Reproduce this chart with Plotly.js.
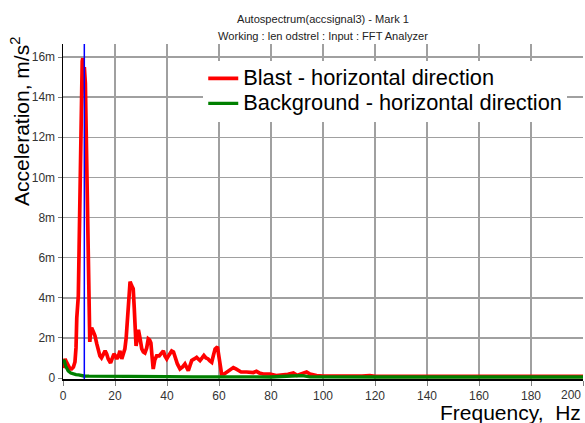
<!DOCTYPE html>
<html>
<head>
<meta charset="utf-8">
<script src="https://cdn.plot.ly/plotly-3.0.1.min.js"></script>
<style>html,body{margin:0;padding:0;background:#fff;}#chart{width:585px;height:423px;}</style>
</head>
<body>
<div id="chart"></div>
<script>
// Frequency (Hz) and acceleration (milli m/s^2)
const blastFreq = [0,0.3,0.8,1.3,2,2.7,3.3,4,4.6,5.0,5.3,5.6,5.9,6.2,6.5,6.8,7.0,7.2,7.4,7.6,7.9,8.2,8.6,8.8,9.0,9.3,9.4,9.7,9.9,10.1,10.3,10.6,11.0,11.7,12.3,13.0,13.6,14.2,14.8,15.5,16.2,16.8,17.4,18.3,19.0,19.6,20.2,20.7,21.3,21.9,22.6,23.2,23.8,24.3,24.7,25.3,25.8,26.4,27.0,27.4,27.7,28.1,28.6,29.0,29.6,30.3,30.9,31.5,32.2,32.8,33.3,33.8,34.3,34.7,35.3,36.0,37.0,38.0,38.6,39.2,39.9,40.8,41.8,42.5,43.0,44.0,45.0,46.0,46.9,47.5,48.2,48.8,49.5,50.5,51.4,52.0,52.7,53.5,54.2,55.0,55.8,56.5,57.2,57.8,58.5,59.4,59.9,60.3,60.7,61.0,62.0,63.0,64.0,65.5,66.5,67.4,68.5,70.6,72.0,73.2,74.4,75.5,77.0,79.6,82.0,84.7,86.5,88.6,90.0,91.5,93.7,95.0,97.5,100,105,110,115,118,120,130,140,150,160,170,180,190,200];
const blastAccel = [0.5,0.8,0.95,0.8,0.6,0.45,0.45,0.55,0.8,1.5,3.0,3.5,4.1,6.5,10.1,12.5,12.7,14.3,15.8,15.95,15.2,15.5,14.7,13.0,11.0,9.0,7.9,5.4,4.0,2.9,1.8,2.2,2.5,2.3,2.1,1.7,1.4,1.1,1.0,1.15,1.35,1.2,0.95,0.75,1.0,1.2,1.1,0.95,1.1,1.35,0.95,1.2,1.45,2.0,2.8,4.3,4.8,4.6,4.45,3.5,2.8,1.6,2.0,2.4,2.0,1.45,1.3,1.25,1.5,1.95,1.9,1.75,1.0,0.45,0.9,1.1,1.1,1.25,1.35,1.1,0.95,1.15,1.35,1.3,1.1,0.7,0.45,0.55,0.7,0.5,0.36,0.6,0.87,0.95,1.03,0.95,0.87,1.0,1.12,1.0,0.95,0.85,0.78,1.1,1.45,1.55,1.2,0.8,0.4,0.2,0.2,0.3,0.4,0.52,0.45,0.37,0.3,0.3,0.28,0.27,0.33,0.25,0.2,0.2,0.12,0.15,0.18,0.25,0.13,0.2,0.3,0.2,0.12,0.1,0.12,0.1,0.09,0.12,0.08,0.08,0.08,0.08,0.08,0.08,0.08,0.08,0.08];
const bgFreq = [0,0.5,1.0,1.5,2.0,3.0,4.0,5.0,6.0,7.0,8.0,10,15,20,30,40,50,60,70,80,88,92,95,100,120,140,160,180,200];
const bgAccel = [0.9,0.85,0.6,0.45,0.35,0.25,0.2,0.17,0.15,0.12,0.1,0.09,0.08,0.07,0.08,0.07,0.06,0.06,0.06,0.05,0.1,0.12,0.06,0.05,0.05,0.05,0.05,0.05,0.05];
const cursorFreq = [8.2];
const yTickVals = [0,2,4,6,8,10,12,14,16];
const yTickText = ["0","2m","4m","6m","8m","10m","12m","14m","16m"];
const xTickVals = [0,20,40,60,80,100,120,140,160,180,200];
const xTickLabels = ["0","20","40","60","80","100","120","140","160","180","200"];
const seriesNames = ["Blast - horizontal direction","Background - horizontal direction"];
const titleLines = ["Autospectrum(accsignal3) - Mark 1","Working : len odstrel : Input : FFT Analyzer"];

const lastIdx = xTickLabels.length - 1;
// the edge label is drawn right-aligned at its tick so it stays inside the picture
const xTickText = xTickLabels.map((s, i) => i === lastIdx ? '' : s);
const legendSpan = s => '<span style="font-size:21.8px">' + s + '</span>';
const traces = [
  {x: blastFreq, y: blastAccel, type:'scatter', mode:'lines', name: legendSpan(seriesNames[0]),
   line:{color:'#ff0000', width:3.7}},
  {x: bgFreq, y: bgAccel, type:'scatter', mode:'lines', name: legendSpan(seriesNames[1]),
   line:{color:'#008000', width:3.3}}
];

const baseFont = 'Liberation Sans, Arial, sans-serif';
const tickFont = {family:baseFont, size:12, color:'#333333'};
const layout = {
  width:585, height:423,
  margin:{l:63, r:2, t:44, b:44},
  paper_bgcolor:'#ffffff', plot_bgcolor:'#ffffff',
  showlegend:true,
  xaxis:{range:[0,200], tickvals:xTickVals, ticktext:xTickText,
         showgrid:true, gridcolor:'#a0a0a0', gridwidth:1.5,
         showline:true, linecolor:'#000000', linewidth:1.5,
         ticks:'outside', ticklen:5, tickcolor:'#808080', tickfont:tickFont,
         zeroline:false, fixedrange:true},
  yaxis:{range:[-0.05,16.65], tickvals:yTickVals, ticktext:yTickText,
         showgrid:true, gridcolor:'#a0a0a0', gridwidth:1.5,
         showline:true, linecolor:'#000000', linewidth:1.5,
         ticks:'outside', ticklen:4, tickcolor:'#808080', tickfont:tickFont,
         zeroline:false, fixedrange:true},
  legend:{x:0.2697, y:0.95, xanchor:'left', yanchor:'top', bgcolor:'#ffffff',
          borderwidth:0, font:{family:baseFont, size:17, color:'#000000'}},
  shapes:[{type:'line', xref:'x', yref:'paper', x0:cursorFreq[0], x1:cursorFreq[0], y0:0, y1:1,
           line:{color:'#0000ff', width:1.5}, layer:'above'}],
  annotations:[
    {text:xTickLabels[lastIdx], xref:'x', yref:'paper', x:xTickVals[lastIdx], y:-0.048,
     xanchor:'right', yanchor:'middle', showarrow:false, font:tickFont},
    {text:titleLines[0], xref:'paper', yref:'paper', x:0.5, y:1.0746, xanchor:'center', yanchor:'middle',
     showarrow:false, font:{family:baseFont, size:11.1, color:'#222222'}},
    {text:titleLines[1], xref:'paper', yref:'paper', x:0.5, y:1.0239, xanchor:'center', yanchor:'middle',
     showarrow:false, font:{family:baseFont, size:11.1, color:'#222222'}},
    {text:'Acceleration, m/s<sup>2</sup>', xref:'paper', yref:'paper', x:-0.083, y:0.77,
     xanchor:'center', yanchor:'middle', textangle:-90, showarrow:false,
     font:{family:baseFont, size:21, color:'#000000'}},
    {text:'Frequency,&nbsp; Hz', xref:'paper', yref:'paper', x:1, y:-0.1,
     xanchor:'right', yanchor:'middle', showarrow:false,
     font:{family:baseFont, size:21, color:'#000000'}}
  ]
};
Plotly.newPlot('chart', traces, layout, {displayModeBar:false, staticPlot:true});
</script>
</body>
</html>
